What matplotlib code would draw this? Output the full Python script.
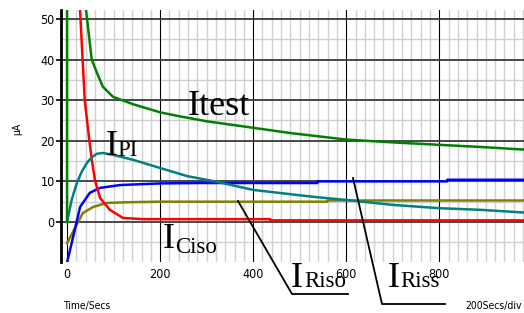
import matplotlib
matplotlib.use("Agg")
import matplotlib.pyplot as plt
from matplotlib.lines import Line2D
from matplotlib import font_manager as fm

# ---------------- data ----------------
t_itest = [0, 0, 41, 53, 64, 77, 99, 142, 200, 243, 300, 400, 480, 600, 700, 800, 900, 1000]
itest = [0, 200, 52, 40, 36.8, 33.3, 30.8, 29.0, 27.0, 26.0, 24.8, 23.2, 21.9, 20.3, 19.6, 19.0, 18.4, 17.7]

t_ipi = [0, 10, 21, 32, 43, 54, 64, 77, 100, 142, 200, 258, 322, 400, 529, 602, 701, 800, 888, 1000]
ipi = [0, 5.5, 9.6, 12.5, 14.6, 16.0, 16.8, 17.0, 16.5, 15.3, 13.3, 11.3, 9.9, 7.9, 6.2, 5.4, 4.2, 3.4, 3.0, 2.2]

t_iriss = [0, 13, 28, 49, 71, 114, 200, 286, 538, 538, 817, 817, 1000]
iriss = [-10, -3.7, 3.7, 7.2, 8.4, 9.1, 9.5, 9.6, 9.6, 10.0, 10.0, 10.4, 10.4]

t_iriso = [0, 17, 34, 56, 86, 142, 200, 560, 560, 1000]
iriso = [-5.2, -1.5, 2.2, 3.7, 4.7, 4.9, 5.0, 5.0, 5.3, 5.3]

t_iciso = [10, 28, 38, 48, 53, 60, 71, 92, 120, 163, 437, 437, 1000]
iciso = [80, 52, 30, 20, 15.5, 10.3, 5.9, 3.0, 1.0, 0.7, 0.7, 0.4, 0.4]

x_ticks = [0, 200, 400, 600, 800]
y_ticks = [0, 10, 20, 30, 40, 50]

# ---------------- fonts ----------------
narrow = None
for f in fm.fontManager.ttflist:
    st = str(f.stretch).lower()
    if ('condensed' in st or 'narrow' in f.name.lower() or 'condensed' in f.name.lower()
            or st in ('500', '400')) and f.style == 'normal' and f.weight in (400, 'normal', 'regular'):
        if 'condensed' in st or 'narrow' in f.name.lower() or 'condensed' in f.name.lower():
            narrow = fm.FontProperties(fname=f.fname)
            break
if narrow is None:
    narrow = fm.FontProperties(family='Liberation Sans')
tick_size = 9 if narrow.get_name() != 'Liberation Sans' else 7.8
serif = 'Liberation Serif'

W, H = 524, 313
fig = plt.figure(figsize=(W / 100, H / 100), dpi=100)
ax = fig.add_axes([61 / W, (H - 262) / H, (W - 61) / W, (262 - 10) / H])

ax.set_xlim(-13, 982)
ax.set_ylim(-9.85, 52.2)

# grid
for xv in range(-20, 1001, 20):
    if xv % 200 != 0:
        ax.axvline(xv, color='#d0d0d0', lw=1.0, zorder=0)
for yv in range(-5, 55, 10):
    ax.axhline(yv, color='#d0d0d0', lw=1.0, zorder=0)
for xv in x_ticks:
    ax.axvline(xv, color='#000000', lw=0.8, zorder=0.5)
for yv in range(-10, 60, 10):
    ax.axhline(yv, color='#3a3a3a', lw=1.3, zorder=0.5)

lw = 1.8
ax.plot(t_iriso, iriso, color='#808000', lw=lw, zorder=2)
ax.plot(t_iriss, iriss, color='#0000ff', lw=lw, zorder=2)
ax.plot(t_iciso, iciso, color='#ff0000', lw=lw, zorder=2)
ax.plot(t_ipi, ipi, color='#008080', lw=lw, zorder=3)
ax.plot(t_itest, itest, color='#008000', lw=lw, zorder=3)

for s in ['top', 'right', 'bottom']:
    ax.spines[s].set_visible(False)
ax.spines['left'].set_linewidth(2)
ax.spines['left'].set_color('black')

ax.set_xticks(x_ticks)
ax.set_yticks(y_ticks)
ax.set_xticklabels([str(v) for v in x_ticks], fontproperties=narrow, fontsize=tick_size)
ax.set_yticklabels([str(v) for v in y_ticks], fontproperties=narrow, fontsize=tick_size)
ax.tick_params(axis='x', length=0, pad=4)
ax.tick_params(axis='y', length=3.5, width=1.2, pad=1)

def P(x, y):
    return (x / W, 1 - y / H)

big = 26
sub = 16.5
def label(x, y, text, size):
    fig.text(*P(x, y), text, fontfamily=serif, fontsize=size, ha='left', va='baseline')

label(188, 115, 'Itest', big)
label(106, 155, 'I', big); label(117, 156, 'PI', sub)
label(163, 248, 'I', big); label(175, 253, 'Ciso', sub)
label(291, 287, 'I', big); label(304, 287, 'Riso', sub)
label(388, 287, 'I', big); label(400, 287, 'Riss', sub)

def polyline(pts):
    xs = [P(x, y)[0] for x, y in pts]
    ys = [P(x, y)[1] for x, y in pts]
    fig.add_artist(Line2D(xs, ys, color='black', lw=1.3, transform=fig.transFigure))

polyline([(238, 201), (292, 294), (348, 294)])
polyline([(353, 178), (382, 304), (445, 304)])

fig.text(*P(17, 129), 'µA', fontproperties=narrow, fontsize=7.5, rotation=90, ha='center', va='center')
fig.text(*P(63, 306), 'Time/Secs', fontproperties=narrow, fontsize=7.5, ha='left', va='center')
fig.text(*P(465, 306), '200Secs/div', fontproperties=narrow, fontsize=7.5, ha='left', va='center')

fig.savefig('out.png', dpi=100)
